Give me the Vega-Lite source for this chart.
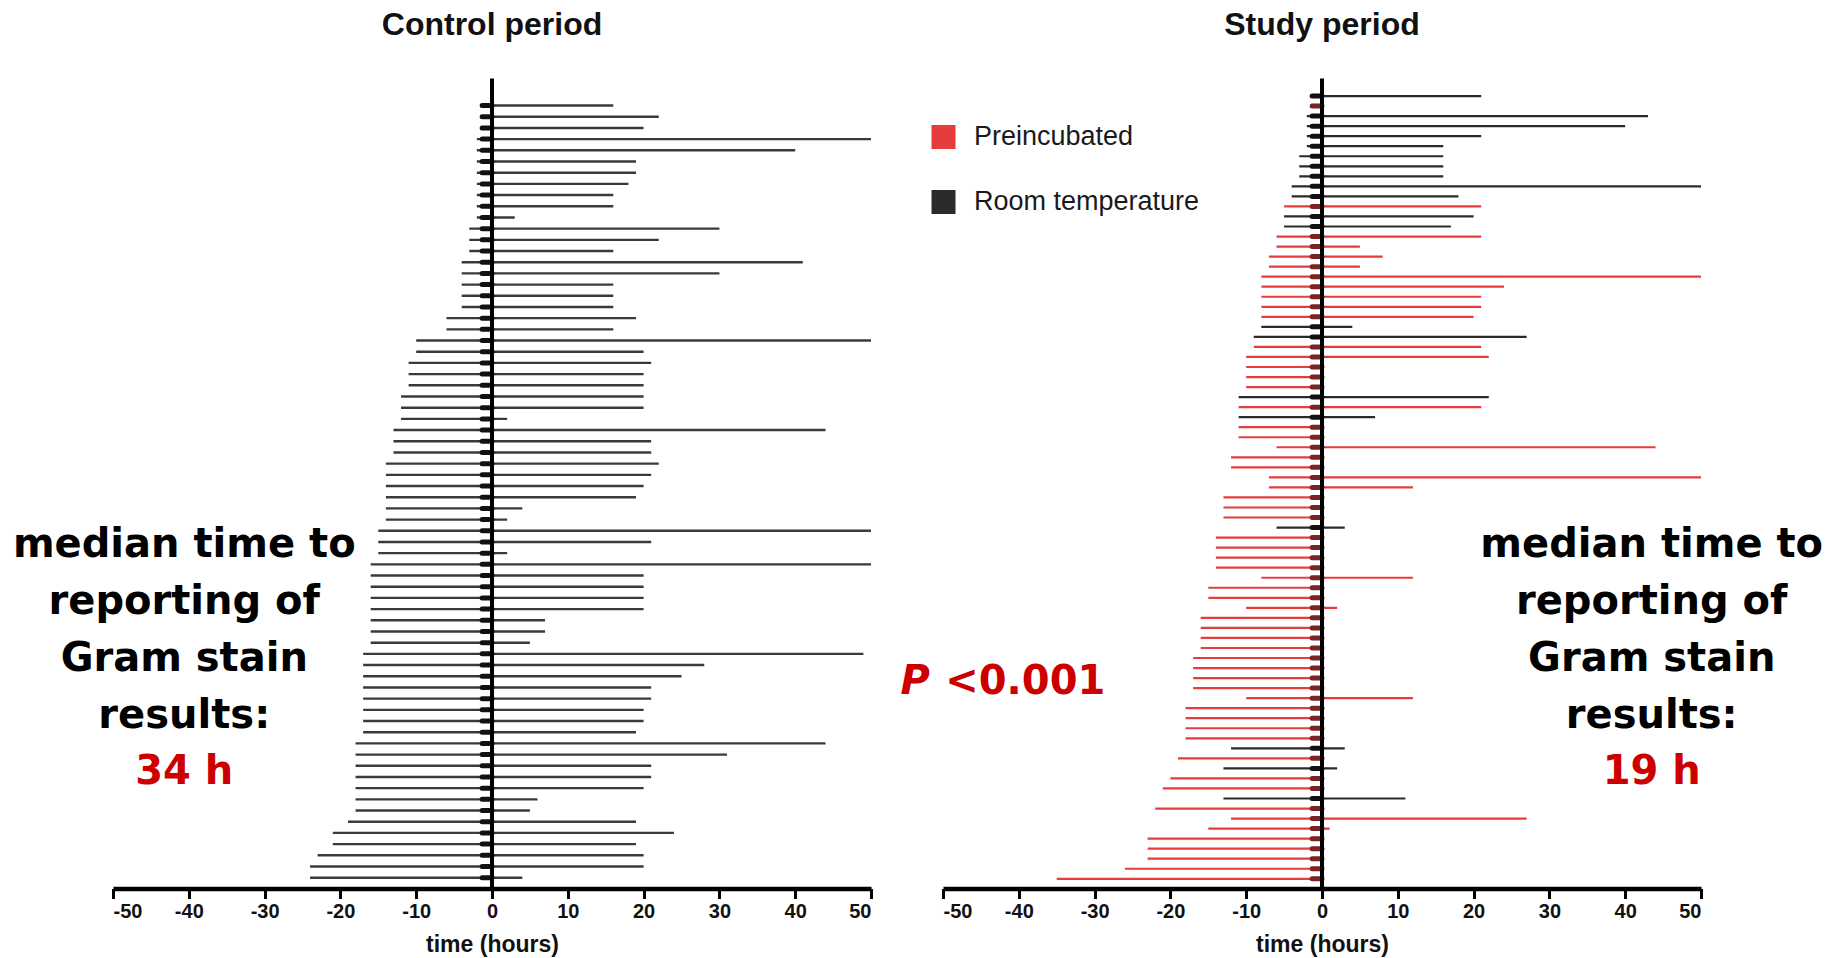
{
  "$schema": "https://vega.github.io/schema/vega-lite/v6.json",
  "background": "white",
  "padding": {"left": 12, "top": 8.5, "right": 0, "bottom": 0},
  "bounds": "flush",
  "spacing": 72,
  "config": {
    "view": {"stroke": null},
    "axisX": {
      "grid": false,
      "domainColor": "#000000",
      "domainWidth": 4.5,
      "tickColor": "#000000",
      "tickWidth": 3,
      "tickSize": 10,
      "labelFont": "Liberation Sans",
      "labelFontWeight": "bold",
      "labelFontSize": 20,
      "labelColor": "#111111",
      "labelPadding": 3,
      "titleFont": "Liberation Sans",
      "titleFontWeight": "bold",
      "titleFontSize": 23,
      "titleColor": "#111111",
      "titlePadding": 12
    },
    "title": {"font": "Liberation Sans", "fontWeight": "bold", "fontSize": 32, "color": "#111111", "baseline": "bottom", "offset": 34.5}
  },
  "datasets": {
    "control": [
      {"row":1,"start":-1.2,"end":16},{"row":2,"start":-1.2,"end":22},{"row":3,"start":-1.2,"end":20},{"row":4,"start":-2,"end":50},{"row":5,"start":-2,"end":40},{"row":6,"start":-2,"end":19},{"row":7,"start":-2,"end":19},{"row":8,"start":-2,"end":18},{"row":9,"start":-2,"end":16},{"row":10,"start":-2,"end":16},
      {"row":11,"start":-2,"end":3},{"row":12,"start":-3,"end":30},{"row":13,"start":-3,"end":22},{"row":14,"start":-3,"end":16},{"row":15,"start":-4,"end":41},{"row":16,"start":-4,"end":30},{"row":17,"start":-4,"end":16},{"row":18,"start":-4,"end":16},{"row":19,"start":-4,"end":16},{"row":20,"start":-6,"end":19},
      {"row":21,"start":-6,"end":16},{"row":22,"start":-10,"end":50},{"row":23,"start":-10,"end":20},{"row":24,"start":-11,"end":21},{"row":25,"start":-11,"end":20},{"row":26,"start":-11,"end":20},{"row":27,"start":-12,"end":20},{"row":28,"start":-12,"end":20},{"row":29,"start":-12,"end":2},{"row":30,"start":-13,"end":44},
      {"row":31,"start":-13,"end":21},{"row":32,"start":-13,"end":21},{"row":33,"start":-14,"end":22},{"row":34,"start":-14,"end":21},{"row":35,"start":-14,"end":20},{"row":36,"start":-14,"end":19},{"row":37,"start":-14,"end":4},{"row":38,"start":-14,"end":2},{"row":39,"start":-15,"end":50},{"row":40,"start":-15,"end":21},
      {"row":41,"start":-15,"end":2},{"row":42,"start":-16,"end":50},{"row":43,"start":-16,"end":20},{"row":44,"start":-16,"end":20},{"row":45,"start":-16,"end":20},{"row":46,"start":-16,"end":20},{"row":47,"start":-16,"end":7},{"row":48,"start":-16,"end":7},{"row":49,"start":-16,"end":5},{"row":50,"start":-17,"end":49},
      {"row":51,"start":-17,"end":28},{"row":52,"start":-17,"end":25},{"row":53,"start":-17,"end":21},{"row":54,"start":-17,"end":21},{"row":55,"start":-17,"end":20},{"row":56,"start":-17,"end":20},{"row":57,"start":-17,"end":19},{"row":58,"start":-18,"end":44},{"row":59,"start":-18,"end":31},{"row":60,"start":-18,"end":21},
      {"row":61,"start":-18,"end":21},{"row":62,"start":-18,"end":20},{"row":63,"start":-18,"end":6},{"row":64,"start":-18,"end":5},{"row":65,"start":-19,"end":19},{"row":66,"start":-21,"end":24},{"row":67,"start":-21,"end":19},{"row":68,"start":-23,"end":20},{"row":69,"start":-24,"end":20},{"row":70,"start":-24,"end":4}
    ],
    "study": [
      {"row":1,"start":-1,"end":21,"group":"Room temperature"},{"row":2,"start":-1,"end":0,"group":"Preincubated"},{"row":3,"start":-2,"end":43,"group":"Room temperature"},{"row":4,"start":-2,"end":40,"group":"Room temperature"},{"row":5,"start":-2,"end":21,"group":"Room temperature"},
      {"row":6,"start":-2,"end":16,"group":"Room temperature"},{"row":7,"start":-3,"end":16,"group":"Room temperature"},{"row":8,"start":-3,"end":16,"group":"Room temperature"},{"row":9,"start":-3,"end":16,"group":"Room temperature"},{"row":10,"start":-4,"end":50,"group":"Room temperature"},
      {"row":11,"start":-4,"end":18,"group":"Room temperature"},{"row":12,"start":-5,"end":21,"group":"Preincubated"},{"row":13,"start":-5,"end":20,"group":"Room temperature"},{"row":14,"start":-5,"end":17,"group":"Room temperature"},{"row":15,"start":-6,"end":21,"group":"Preincubated"},
      {"row":16,"start":-6,"end":5,"group":"Preincubated"},{"row":17,"start":-7,"end":8,"group":"Preincubated"},{"row":18,"start":-7,"end":5,"group":"Preincubated"},{"row":19,"start":-8,"end":50,"group":"Preincubated"},{"row":20,"start":-8,"end":24,"group":"Preincubated"},
      {"row":21,"start":-8,"end":21,"group":"Preincubated"},{"row":22,"start":-8,"end":21,"group":"Preincubated"},{"row":23,"start":-8,"end":20,"group":"Preincubated"},{"row":24,"start":-8,"end":4,"group":"Room temperature"},{"row":25,"start":-9,"end":27,"group":"Room temperature"},
      {"row":26,"start":-9,"end":21,"group":"Preincubated"},{"row":27,"start":-10,"end":22,"group":"Preincubated"},{"row":28,"start":-10,"end":0,"group":"Preincubated"},{"row":29,"start":-10,"end":0,"group":"Preincubated"},{"row":30,"start":-10,"end":0,"group":"Preincubated"},
      {"row":31,"start":-11,"end":22,"group":"Room temperature"},{"row":32,"start":-11,"end":21,"group":"Preincubated"},{"row":33,"start":-11,"end":7,"group":"Room temperature"},{"row":34,"start":-11,"end":0,"group":"Preincubated"},{"row":35,"start":-11,"end":0,"group":"Preincubated"},
      {"row":36,"start":-6,"end":44,"group":"Preincubated"},{"row":37,"start":-12,"end":0,"group":"Preincubated"},{"row":38,"start":-12,"end":0,"group":"Preincubated"},{"row":39,"start":-7,"end":50,"group":"Preincubated"},{"row":40,"start":-7,"end":12,"group":"Preincubated"},
      {"row":41,"start":-13,"end":0,"group":"Preincubated"},{"row":42,"start":-13,"end":0,"group":"Preincubated"},{"row":43,"start":-13,"end":0,"group":"Preincubated"},{"row":44,"start":-6,"end":3,"group":"Room temperature"},{"row":45,"start":-14,"end":0,"group":"Preincubated"},
      {"row":46,"start":-14,"end":0,"group":"Preincubated"},{"row":47,"start":-14,"end":0,"group":"Preincubated"},{"row":48,"start":-14,"end":0,"group":"Preincubated"},{"row":49,"start":-8,"end":12,"group":"Preincubated"},{"row":50,"start":-15,"end":0,"group":"Preincubated"},
      {"row":51,"start":-15,"end":0,"group":"Preincubated"},{"row":52,"start":-10,"end":2,"group":"Preincubated"},{"row":53,"start":-16,"end":0,"group":"Preincubated"},{"row":54,"start":-16,"end":0,"group":"Preincubated"},{"row":55,"start":-16,"end":0,"group":"Preincubated"},
      {"row":56,"start":-16,"end":0,"group":"Preincubated"},{"row":57,"start":-17,"end":0,"group":"Preincubated"},{"row":58,"start":-17,"end":0,"group":"Preincubated"},{"row":59,"start":-17,"end":0,"group":"Preincubated"},{"row":60,"start":-17,"end":0,"group":"Preincubated"},
      {"row":61,"start":-10,"end":12,"group":"Preincubated"},{"row":62,"start":-18,"end":0,"group":"Preincubated"},{"row":63,"start":-18,"end":0,"group":"Preincubated"},{"row":64,"start":-18,"end":0,"group":"Preincubated"},{"row":65,"start":-18,"end":0,"group":"Preincubated"},
      {"row":66,"start":-12,"end":3,"group":"Room temperature"},{"row":67,"start":-19,"end":0,"group":"Preincubated"},{"row":68,"start":-13,"end":2,"group":"Room temperature"},{"row":69,"start":-20,"end":0,"group":"Preincubated"},{"row":70,"start":-21,"end":0,"group":"Preincubated"},
      {"row":71,"start":-13,"end":11,"group":"Room temperature"},{"row":72,"start":-22,"end":0,"group":"Preincubated"},{"row":73,"start":-12,"end":27,"group":"Preincubated"},{"row":74,"start":-15,"end":1,"group":"Preincubated"},{"row":75,"start":-23,"end":0,"group":"Preincubated"},
      {"row":76,"start":-23,"end":0,"group":"Preincubated"},{"row":77,"start":-23,"end":0,"group":"Preincubated"},{"row":78,"start":-26,"end":0,"group":"Preincubated"},{"row":79,"start":-35,"end":0,"group":"Preincubated"}
    ]
  },
  "hconcat": [
    {
      "width": 758,
      "height": 810,
      "title": {"text": "Control period"},
      "data": {"name": "control"},
      "layer": [
        {
          "mark": {"type": "bar", "height": 2.4, "color": "#3a3a3a"},
          "encoding": {
            "x": {"field": "start", "type": "quantitative", "scale": {"domain": [-50, 50], "nice": false, "zero": false}, "axis": {"title": "time (hours)", "values": [-50, -40, -30, -20, -10, 0, 10, 20, 30, 40, 50], "labelExpr": "'' + datum.value"}},
            "x2": {"field": "end"},
            "y": {"field": "row", "type": "quantitative", "scale": {"domain": [-0.97, 70.52], "reverse": true, "nice": false, "zero": false}, "axis": null}
          }
        },
        {
          "mark": {"type": "rule", "strokeWidth": 5, "color": "#111111", "strokeCap": "round"},
          "encoding": {"x": {"datum": -1.3}, "x2": {"datum": 0}, "y": {"field": "row", "type": "quantitative"}}
        },
        {
          "data": {"values": [{}]},
          "mark": {"type": "rule", "strokeWidth": 4, "color": "#000000"},
          "encoding": {"x": {"datum": 0}}
        },
        {
          "data": {"values": [{}]},
          "mark": {"type": "text", "text": ["median time to", "reporting of", "Gram stain", "results:"], "font": "DejaVu Sans", "fontWeight": "bold", "fontSize": 40, "lineHeight": 57, "align": "center", "baseline": "middle", "color": "#000000"},
          "encoding": {"x": {"datum": -40.6}, "y": {"datum": 40.29}}
        },
        {
          "data": {"values": [{}]},
          "mark": {"type": "text", "text": "34 h", "font": "DejaVu Sans", "fontWeight": "bold", "fontSize": 40, "align": "center", "baseline": "middle", "color": "#cc0000"},
          "encoding": {"x": {"datum": -40.6}, "y": {"datum": 60.6}}
        }
      ]
    },
    {
      "width": 758,
      "height": 810,
      "title": {"text": "Study period"},
      "data": {"name": "study"},
      "layer": [
        {
          "mark": {"type": "bar", "height": 2.2},
          "encoding": {
            "x": {"field": "start", "type": "quantitative", "scale": {"domain": [-50, 50], "nice": false, "zero": false}, "axis": {"title": "time (hours)", "values": [-50, -40, -30, -20, -10, 0, 10, 20, 30, 40, 50], "labelExpr": "'' + datum.value"}},
            "x2": {"field": "end"},
            "y": {"field": "row", "type": "quantitative", "scale": {"domain": [-0.25, 79.47], "reverse": true, "nice": false, "zero": false}, "axis": null},
            "color": {
              "field": "group", "type": "nominal",
              "scale": {"domain": ["Preincubated", "Room temperature"], "range": ["#e63c3c", "#2a2a2a"]},
              "legend": {"title": null, "orient": "none", "legendX": 817, "legendY": 45, "symbolType": "square", "symbolSize": 576, "symbolStrokeWidth": 0, "symbolOpacity": 1, "labelFont": "Liberation Sans", "labelFontSize": 27, "labelColor": "#1a1a1a", "labelOffset": 17, "labelLimit": 0, "rowPadding": 37}
            }
          }
        },
        {
          "mark": {"type": "rule", "strokeWidth": 5, "strokeCap": "round"},
          "encoding": {
            "x": {"datum": -1.3}, "x2": {"datum": 0}, "y": {"field": "row", "type": "quantitative"},
            "color": {"condition": {"test": "datum.group === 'Preincubated'", "value": "#7a2424"}, "value": "#111111"}
          }
        },
        {
          "data": {"values": [{}]},
          "mark": {"type": "rule", "strokeWidth": 4, "color": "#000000"},
          "encoding": {"x": {"datum": 0}}
        },
        {
          "data": {"values": [{}]},
          "mark": {"type": "text", "text": ["median time to", "reporting of", "Gram stain", "results:"], "font": "DejaVu Sans", "fontWeight": "bold", "fontSize": 40, "lineHeight": 57, "align": "center", "baseline": "middle", "color": "#000000"},
          "encoding": {"x": {"datum": 43.5}, "y": {"datum": 45.76}}
        },
        {
          "data": {"values": [{}]},
          "mark": {"type": "text", "text": "19 h", "font": "DejaVu Sans", "fontWeight": "bold", "fontSize": 40, "align": "center", "baseline": "middle", "color": "#cc0000"},
          "encoding": {"x": {"datum": 43.5}, "y": {"datum": 68.36}}
        },
        {
          "data": {"values": [{}]},
          "mark": {"type": "text", "text": "P", "font": "DejaVu Sans", "fontWeight": "bold", "fontStyle": "italic", "fontSize": 40, "align": "left", "baseline": "middle", "color": "#cc0000"},
          "encoding": {"x": {"datum": -55.6}, "y": {"datum": 59.44}}
        },
        {
          "data": {"values": [{}]},
          "mark": {"type": "text", "text": "<0.001", "font": "DejaVu Sans", "fontWeight": "bold", "fontSize": 40, "align": "left", "baseline": "middle", "color": "#cc0000"},
          "encoding": {"x": {"datum": -49.7}, "y": {"datum": 59.44}}
        }
      ]
    }
  ]
}
